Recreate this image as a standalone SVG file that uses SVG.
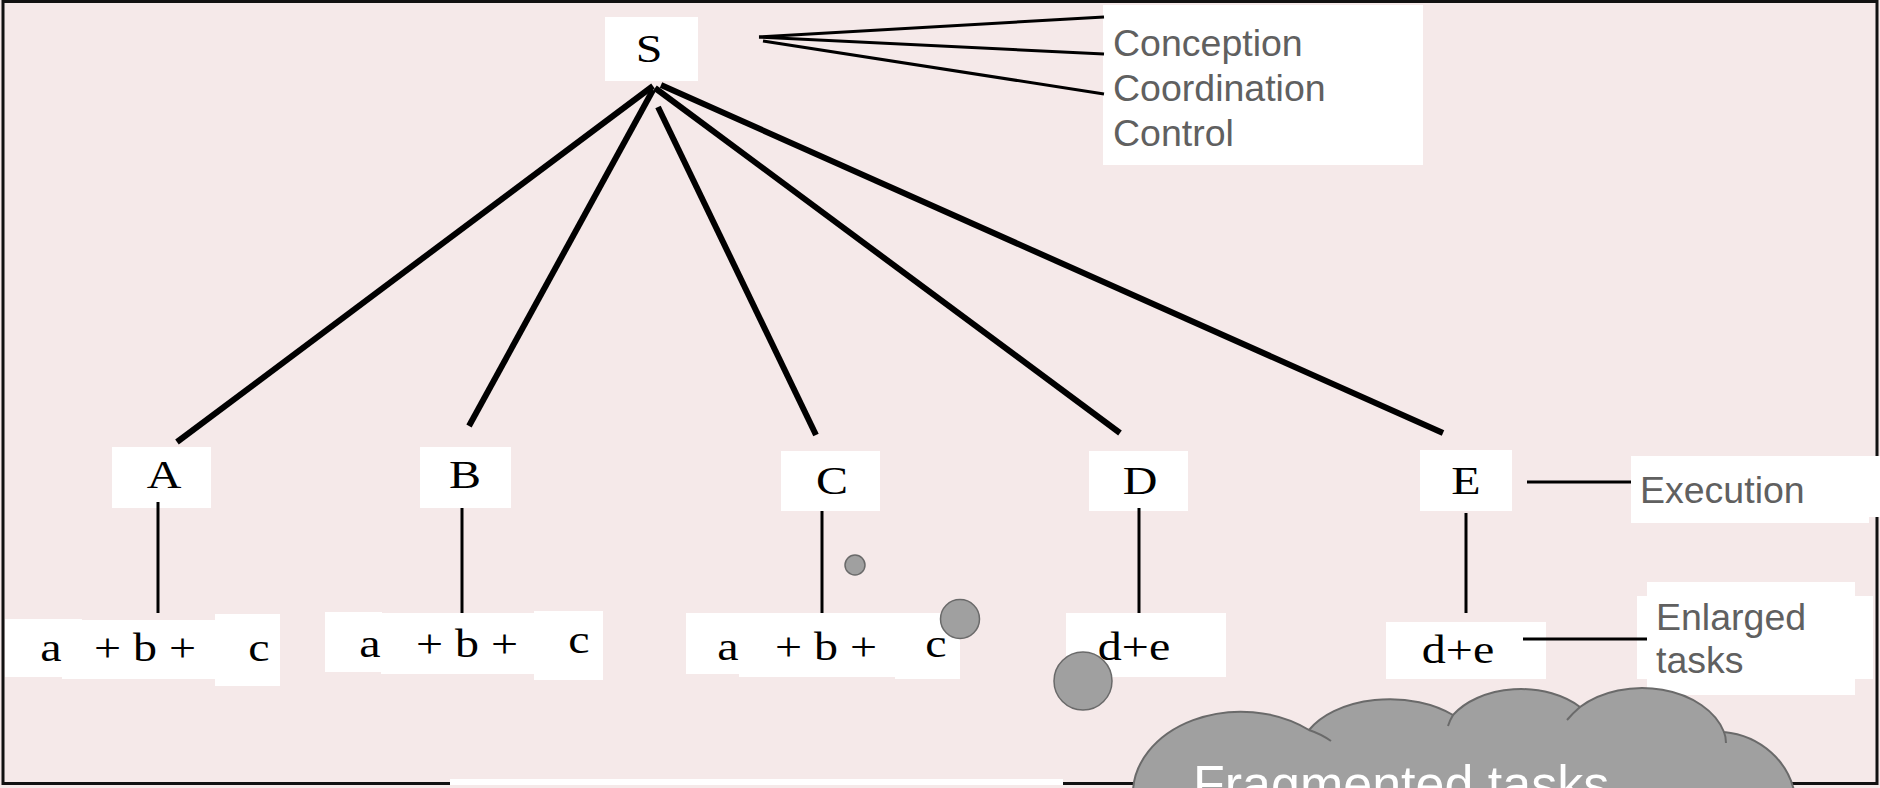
<svg xmlns="http://www.w3.org/2000/svg" width="1880" height="788" viewBox="0 0 1880 788">
  <style>
    .box { fill: #ffffff; }
    .serif { font-family: "Liberation Serif", "Times New Roman", serif; font-size: 40px; fill: #000000; text-anchor: middle; }
    .sans { font-family: "Liberation Sans", Arial, sans-serif; font-size: 37.5px; fill: #606060; }
    .cloudtext { font-family: "Liberation Sans", Arial, sans-serif; font-size: 52px; fill: #ffffff; }
    .thick { stroke: #000000; stroke-width: 6; fill: none; }
    .thin { stroke: #000000; stroke-width: 3; fill: none; }
    .dot { fill: #a0a0a0; stroke: #6a6a6a; stroke-width: 1.5; }
    .cloud { fill: #a0a0a0; stroke: #6a6a6a; stroke-width: 2; }
    .cloudline { fill: none; stroke: #6a6a6a; stroke-width: 2; }
  </style>

  <!-- background panel -->
  <rect x="0" y="0" width="1880" height="788" fill="#f5e9e9"/>
  <rect x="3" y="1.5" width="1874" height="782" fill="#f5e9e9" stroke="#111111" stroke-width="3"/>

  <!-- top node -->
  <g id="node-S">
    <rect class="box" x="605" y="17" width="93" height="64"/>
    <text class="serif" transform="translate(649 62) scale(1.2 1)">S</text>
  </g>

  <!-- middle level -->
  <g id="node-A">
    <rect class="box" x="112" y="447" width="99" height="61"/>
    <text class="serif" transform="translate(164 488) scale(1.2 1)">A</text>
  </g>
  <g id="node-B">
    <rect class="box" x="420" y="447" width="91" height="61"/>
    <text class="serif" transform="translate(465 488) scale(1.2 1)">B</text>
  </g>
  <g id="node-C">
    <rect class="box" x="781" y="451" width="99" height="60"/>
    <text class="serif" transform="translate(832 494) scale(1.2 1)">C</text>
  </g>
  <g id="node-D">
    <rect class="box" x="1089" y="451" width="99" height="60"/>
    <text class="serif" transform="translate(1140 494) scale(1.2 1)">D</text>
  </g>
  <g id="node-E">
    <rect class="box" x="1420" y="450" width="92" height="61"/>
    <text class="serif" transform="translate(1466 494) scale(1.2 1)">E</text>
  </g>

  <!-- task level -->
  <g id="tasks-A">
    <rect class="box" x="5" y="619" width="77" height="58"/>
    <text class="serif" transform="translate(51 661) scale(1.2 1)">a</text>
    <rect class="box" x="62" y="620" width="153" height="59"/>
    <text class="serif" transform="translate(145 661) scale(1.2 1)">+ b +</text>
    <rect class="box" x="215" y="614" width="65" height="72"/>
    <text class="serif" transform="translate(259 661) scale(1.2 1)">c</text>
  </g>
  <g id="tasks-B">
    <rect class="box" x="325" y="612" width="57" height="60"/>
    <text class="serif" transform="translate(370 657) scale(1.2 1)">a</text>
    <rect class="box" x="381" y="613" width="153" height="61"/>
    <text class="serif" transform="translate(467 657) scale(1.2 1)">+ b +</text>
    <rect class="box" x="534" y="611" width="69" height="69"/>
    <text class="serif" transform="translate(579 653) scale(1.2 1)">c</text>
  </g>
  <g id="tasks-C">
    <rect class="box" x="686" y="613" width="54" height="61"/>
    <text class="serif" transform="translate(728 660) scale(1.2 1)">a</text>
    <rect class="box" x="739" y="613" width="156" height="64"/>
    <text class="serif" transform="translate(826 660) scale(1.2 1)">+ b +</text>
    <rect class="box" x="895" y="613" width="65" height="66"/>
    <text class="serif" transform="translate(936 657) scale(1.2 1)">c</text>
  </g>
  <g id="tasks-D">
    <rect class="box" x="1066" y="613" width="160" height="64"/>
    <text class="serif" transform="translate(1134 660) scale(1.2 1)">d+e</text>
  </g>
  <g id="tasks-E">
    <rect class="box" x="1386" y="622" width="160" height="57"/>
    <text class="serif" transform="translate(1458 663) scale(1.2 1)">d+e</text>
  </g>

  <!-- side labels -->
  <g id="label-top">
    <rect class="box" x="1103" y="5" width="320" height="160"/>
    <text class="sans" x="1113" y="56">Conception</text>
    <text class="sans" x="1113" y="101">Coordination</text>
    <text class="sans" x="1113" y="146">Control</text>
  </g>
  <g id="label-execution">
    <rect class="box" x="1631" y="456" width="249" height="61"/>
    <rect class="box" x="1631" y="456" width="238" height="67"/>
    <text class="sans" x="1640" y="503">Execution</text>
  </g>
  <g id="label-enlarged">
    <rect class="box" x="1647" y="582" width="208" height="113"/>
    <rect class="box" x="1637" y="596" width="236" height="83"/>
    <text class="sans" x="1656" y="630">Enlarged</text>
    <text class="sans" x="1656" y="673">tasks</text>
  </g>

  <!-- connectors -->
  <g id="connectors">
    <line class="thick" x1="653" y1="86" x2="177" y2="442"/>
    <line class="thick" x1="653" y1="90" x2="469" y2="426"/>
    <line class="thick" x1="658" y1="107" x2="816" y2="435"/>
    <line class="thick" x1="655" y1="88" x2="1120" y2="433"/>
    <line class="thick" x1="661" y1="85" x2="1443" y2="433"/>

    <line class="thin" x1="158" y1="502" x2="158" y2="613"/>
    <line class="thin" x1="462" y1="508" x2="462" y2="613"/>
    <line class="thin" x1="822" y1="511" x2="822" y2="613"/>
    <line class="thin" x1="1139" y1="508" x2="1139" y2="613"/>
    <line class="thin" x1="1466" y1="513" x2="1466" y2="613"/>

    <line class="thin" x1="759" y1="37" x2="1104" y2="17"/>
    <line class="thin" x1="759" y1="37" x2="1104" y2="54"/>
    <line class="thin" x1="763" y1="41" x2="1104" y2="94"/>
    <line class="thin" x1="1527" y1="482" x2="1631" y2="482"/>
    <line class="thin" x1="1523" y1="639" x2="1647" y2="639"/>
  </g>

  <!-- thought bubbles -->
  <g id="bubbles">
    <circle class="dot" cx="855" cy="565" r="10"/>
    <circle class="dot" cx="960" cy="619" r="19.5"/>
    <circle class="dot" cx="1083" cy="681" r="29"/>
  </g>

  <!-- cloud -->
  <g id="cloud">
    <path class="cloud" d="M 1133 796 A 108 82 0 0 1 1309 730 A 90 55 0 0 1 1453 715 A 80 55 0 0 1 1580 707 A 85 60 0 0 1 1724 732 A 80 75 0 0 1 1795 796 Z"/>
    <path class="cloudline" d="M 1309 730 Q 1321 734 1331 741"/>
    <path class="cloudline" d="M 1448 726 Q 1450 720 1453 715"/>
    <path class="cloudline" d="M 1567 720 Q 1573 713 1580 707"/>
    <path class="cloudline" d="M 1724 732 Q 1726 737 1726 743"/>
    <text class="cloudtext" x="1193" y="802">Fragmented tasks</text>
  </g>

  <!-- strip along the lower edge -->
  <rect class="box" x="450" y="779" width="613" height="6"/>
</svg>
